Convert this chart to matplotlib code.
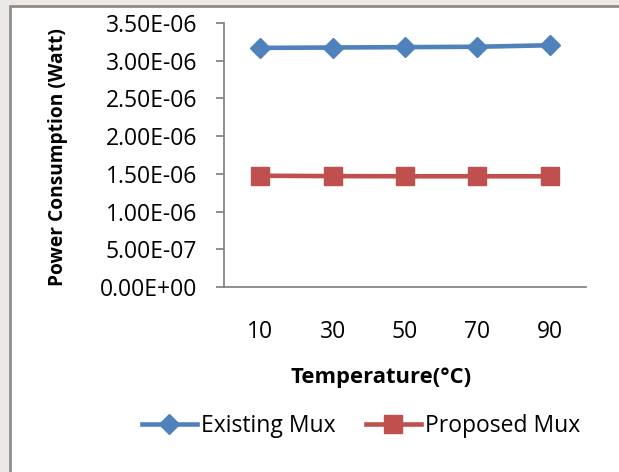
import matplotlib
matplotlib.use('Agg')
import matplotlib.pyplot as plt
from matplotlib.patches import Rectangle
from matplotlib.ticker import FuncFormatter

temps = ['10', '30', '50', '70', '90']
existing_mux = [3.17e-6, 3.175e-6, 3.18e-6, 3.185e-6, 3.205e-6]
proposed_mux = [1.475e-6, 1.47e-6, 1.468e-6, 1.468e-6, 1.468e-6]
y_ticks = [0, 0.5e-6, 1.0e-6, 1.5e-6, 2.0e-6, 2.5e-6, 3.0e-6, 3.5e-6]

W, H = 619, 472
plt.rcParams['font.family'] = ['Open Sans', 'DejaVu Sans']

fig = plt.figure(figsize=(W / 100, H / 100), dpi=100, facecolor='#ebe8e6')

# chart frame (white area with grey border, cut off at right/bottom)
fig.patches.append(Rectangle((10 / W, -0.1), 1.2, 1 - 6 / H + 0.1,
                             transform=fig.transFigure, facecolor='white',
                             edgecolor='#8c8c8c', linewidth=2, zorder=0))

ax = fig.add_axes([224 / W, 1 - 287 / H, (586 - 224) / W, (287 - 23) / H])
ax.set_facecolor('none')
ax.set_zorder(2)

x = list(range(len(temps)))
ax.plot(x, existing_mux, color='#4f81bd', lw=3.3, marker='D', ms=10.5,
        label='Existing Mux', clip_on=False)
ax.plot(x, proposed_mux, color='#c0504d', lw=3.3, marker='s', ms=13.5,
        label='Proposed Mux', clip_on=False)

ax.set_xlim(-0.5, len(temps) - 0.5)
ax.set_ylim(0, 3.5e-6)
ax.set_xticks(x)
ax.set_xticklabels(temps)
ax.set_yticks(y_ticks)
ax.yaxis.set_major_formatter(FuncFormatter(lambda v, p: '%.2E' % v))

for s in ['top', 'right']:
    ax.spines[s].set_visible(False)
for s in ['left', 'bottom']:
    ax.spines[s].set_color('#868686')
    ax.spines[s].set_linewidth(1.3)
ax.tick_params(axis='y', length=5.8, width=1.3, color='#868686', pad=13.5,
               labelsize=16.5)
ax.tick_params(axis='x', length=0, pad=24, labelsize=16.5)

fig.text(58 / W, 1 - 157 / H, 'Power Consumption (Watt)', rotation=90,
         ha='center', va='center', fontsize=13.8, fontweight='bold')
fig.text(381 / W, 1 - 378 / H, 'Temperature(°C)', ha='center', va='center',
         fontsize=15.8, fontweight='bold')

leg = fig.legend(loc='center', bbox_to_anchor=(361 / W, 1 - 426 / H), ncol=2,
                 frameon=False, fontsize=16.5, handlelength=2.4,
                 handletextpad=0.2, columnspacing=1.3)
leg.set_zorder(3)

fig.savefig('out.png', dpi=100, facecolor=fig.get_facecolor())
